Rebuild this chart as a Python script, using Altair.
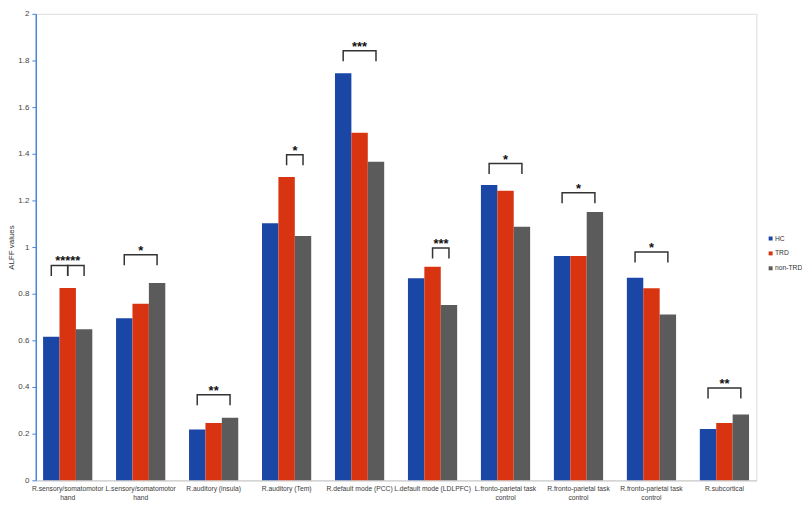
import json
import altair as alt
import pandas as pd

# ---------------- data ----------------
categories = [
    "R.sensory/somatomotor|hand",
    "L.sensory/somatomotor|hand",
    "R.auditory (insula)",
    "R.auditory (Tem)",
    "R.default mode (PCC)",
    "L.default mode (LDLPFC)",
    "L.fronto-parietal task|control",
    "R.fronto-parietal task|control",
    "R.fronto-parietal task|control",
    "R.subcortical",
]
series = ["HC", "TRD", "non-TRD"]
colors = ["#1A47A6", "#D93411", "#5B5B5B"]

hc = [0.615, 0.695, 0.218, 1.102, 1.745, 0.866, 1.266, 0.962, 0.868, 0.220]
trd = [0.825, 0.757, 0.246, 1.300, 1.490, 0.916, 1.241, 0.962, 0.823, 0.246]
non_trd = [0.648, 0.846, 0.268, 1.047, 1.366, 0.752, 1.087, 1.150, 0.711, 0.282]

# significance brackets (category index, from series, to series, top value)
br_cat = [0, 0, 1, 2, 3, 4, 5, 6, 7, 8, 9]
br_from = ["HC", "TRD", "HC", "HC", "TRD", "HC", "TRD", "HC", "HC", "HC", "HC"]
br_to = ["TRD", "non-TRD", "non-TRD", "non-TRD", "non-TRD", "non-TRD",
         "non-TRD", "non-TRD", "non-TRD", "non-TRD", "non-TRD"]
br_top = [0.921, 0.921, 0.967, 0.367, 1.396, 1.842, 0.996, 1.358, 1.233, 0.979, 0.396]
br_leg = 0.045

# star labels
star_cat = [0, 1, 2, 3, 4, 5, 6, 7, 8, 9]
star_text = ["*****", "*", "**", "*", "***", "***", "*", "*", "*", "**"]
star_y = [0.921, 0.967, 0.367, 1.396, 1.842, 0.996, 1.358, 1.233, 0.979, 0.396]
star_mid = [False, False, False, True, False, True, False, False, False, False]

y_ticks = [0, 0.2, 0.4, 0.6, 0.8, 1.0, 1.2, 1.4, 1.6, 1.8, 2.0]

# ---------------- tables ----------------
bars = pd.DataFrame(
    [{"cat": i, "series": s, "value": vals[i]}
     for i in range(len(categories))
     for s, vals in zip(series, [hc, trd, non_trd])]
)

br_rows = []
for b, (c, f, t, top) in enumerate(zip(br_cat, br_from, br_to, br_top)):
    br_rows += [
        {"bid": b, "cat": c, "series": f, "v": top - br_leg, "ord": 0},
        {"bid": b, "cat": c, "series": f, "v": top, "ord": 1},
        {"bid": b, "cat": c, "series": t, "v": top, "ord": 2},
        {"bid": b, "cat": c, "series": t, "v": top - br_leg, "ord": 3},
    ]
brackets = pd.DataFrame(br_rows)

stars_center = pd.DataFrame(
    [{"cat": c, "series": "TRD", "v": y, "t": t}
     for c, t, y, m in zip(star_cat, star_text, star_y, star_mid) if not m]
)
stars_mid = pd.DataFrame(
    [{"cat": c, "series": "non-TRD", "v": y, "t": t}
     for c, t, y, m in zip(star_cat, star_text, star_y, star_mid) if m]
)

label_expr = "split(" + json.dumps(categories) + "[datum.value], '|')"

x_enc = alt.X(
    "cat:O",
    scale=alt.Scale(paddingInner=0.3255, paddingOuter=0.1),
    axis=alt.Axis(
        title=None, labelExpr=label_expr, labelAngle=0, ticks=False,
        domainColor="#cfcfcf", domainWidth=1.2,
        labelFontSize=6.8, labelColor="#3a3a3a", labelPadding=5,
        labelLineHeight=9, labelFont="Liberation Sans",
        labelOverlap=False, labelBound=False,
    ),
)
xoff_enc = alt.XOffset("series:N", scale=alt.Scale(domain=series, paddingInner=0, paddingOuter=0))
y_scale = alt.Scale(domain=[0, 2], nice=False)

bar_layer = alt.Chart(bars).mark_bar().encode(
    x=x_enc,
    xOffset=xoff_enc,
    y=alt.Y(
        "value:Q", scale=y_scale,
        axis=alt.Axis(
            values=y_ticks, labelExpr="format(datum.value, '.1~f')",
            grid=False, domainColor="#4A86D8", domainWidth=1.5,
            tickColor="#4A86D8", tickSize=4, tickWidth=1,
            labelFontSize=8, labelColor="#444444", labelPadding=3,
            labelFont="Liberation Sans",
            title="ALFF values", titleFontSize=8, titleFontWeight="normal",
            titleColor="#333333", titlePadding=2, titleFont="Liberation Sans",
        ),
    ),
    color=alt.Color(
        "series:N", scale=alt.Scale(domain=series, range=colors),
        legend=alt.Legend(
            title=None, orient="none", legendX=737, legendY=223,
            symbolType="square", symbolSize=16, symbolStrokeWidth=0,
            labelFontSize=6.8, labelColor="#333333", labelFont="Liberation Sans",
            rowPadding=7, labelOffset=1,
        ),
    ),
)

bracket_layer = alt.Chart(brackets).mark_line(
    color="#333333", strokeWidth=1.5, strokeJoin="miter", strokeCap="butt"
).encode(
    x=alt.X("cat:O"),
    xOffset=alt.XOffset("series:N"),
    y=alt.Y("v:Q"),
    detail="bid:N",
    order="ord:Q",
)

star_layer1 = alt.Chart(stars_center).mark_text(
    font="Liberation Sans", fontSize=13, fontWeight="bold", color="#111111",
    baseline="alphabetic",
).encode(
    x=alt.X("cat:O"), xOffset=alt.XOffset("series:N"), y=alt.Y("v:Q"), text="t:N"
)
star_layer2 = alt.Chart(stars_mid).mark_text(
    font="Liberation Sans", fontSize=13, fontWeight="bold", color="#111111",
    baseline="alphabetic", dx=-8,
).encode(
    x=alt.X("cat:O"), xOffset=alt.XOffset("series:N"), y=alt.Y("v:Q"), text="t:N"
)

chart = (
    alt.layer(bar_layer, bracket_layer, star_layer1, star_layer2)
    .properties(
        width=726, height=470,
        autosize=alt.AutoSizeParams(type="none"),
        padding={"left": 28, "top": 4, "right": 46, "bottom": 20},
    )
    .configure_view(stroke=None)
    .configure(background="white")
)

chart.save("out.html", embed_options={"renderer": "svg", "actions": False})
